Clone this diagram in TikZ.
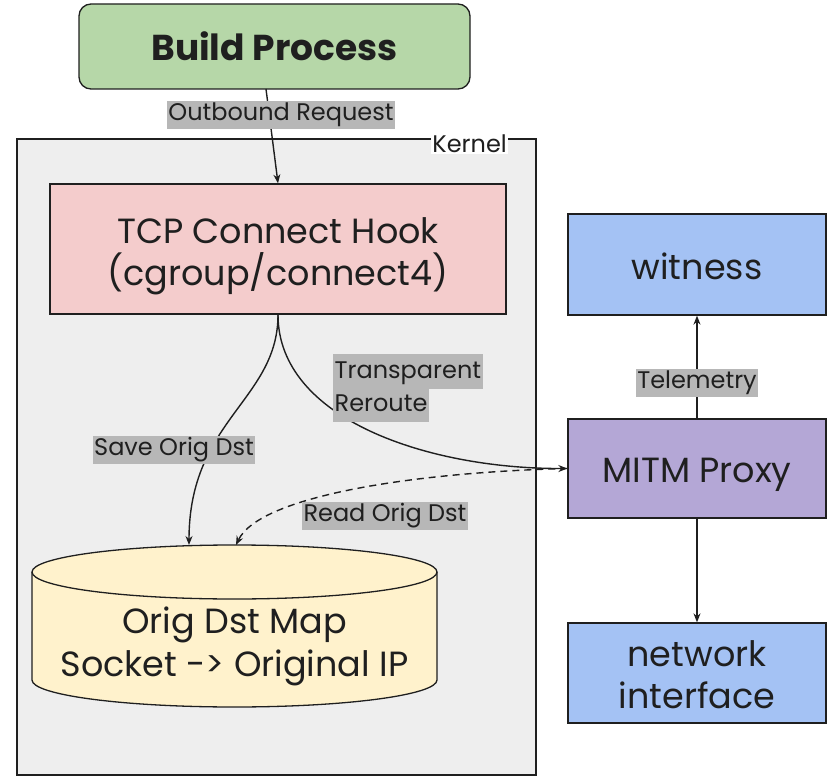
\documentclass[tikz,border=0pt]{standalone}
\usepackage{fontspec}
\setmainfont{Poppins}
\usetikzlibrary{arrows.meta}
\definecolor{txt}{HTML}{1F1F1F}
\definecolor{lblbg}{HTML}{B7B7B7}
\definecolor{buildfill}{HTML}{B6D7A8}
\definecolor{kernfill}{HTML}{EEEEEE}
\definecolor{tcpfill}{HTML}{F4CCCC}
\definecolor{bluefill}{HTML}{A4C2F4}
\definecolor{mitmfill}{HTML}{B4A7D6}
\definecolor{mapfill}{HTML}{FFF2CC}
\newcommand{\lblhl}[1]{{\setlength{\fboxsep}{1.5pt}\colorbox{lblbg}{\strut #1}}}
\tikzset{
  box/.style={draw=txt, line width=1.3pt, inner sep=0pt},
  boxtext/.style={text=txt, align=center, inner sep=0pt,
    font=\fontsize{35}{42}\selectfont},
  lbl/.style={fill=lblbg, text=txt, inner xsep=1.5pt, inner ysep=2pt,
    font=\fontsize{24}{32}\selectfont},
  conn/.style={line width=1.4pt, draw=txt, -{Stealth[length=9pt,width=7pt]}}
}
\begin{document}
\begin{tikzpicture}[x=1pt,y=1pt]
\useasboundingbox (0,0) rectangle (831,-776);
% kernel
\node[box, fill=kernfill, minimum width=519pt, minimum height=636pt] (kernel) at (276.5,-457) {};
\node[fill=white, text=txt, inner sep=1pt, anchor=east, font=\fontsize{24}{28}\selectfont] (kernlbl) at (508,-144) {Kernel};
% build
\node[box, fill=buildfill, rounded corners=12pt, minimum width=391pt, minimum height=85pt] (build) at (274.5,-46.5) {};
\node[boxtext, font=\fontsize{36}{42}\selectfont\bfseries] (buildt) at (build.center) {Build Process};
% tcp
\node[box, fill=tcpfill, minimum width=456pt, minimum height=130pt] (tcp) at (278,-249) {};
\node[boxtext] (tcpt) at ([yshift=-7pt]tcp.center) {TCP Connect Hook\\(cgroup/connect4)};
% right column
\node[box, fill=bluefill, minimum width=258pt, minimum height=101pt] (witness) at (697,-264.5) {};
\node[boxtext] (witnesst) at ([yshift=-2pt]witness.center) {witness};
\node[box, fill=mitmfill, minimum width=258pt, minimum height=99pt] (mitm) at (697,-468.5) {};
\node[boxtext] (mitmt) at ([yshift=-6pt]mitm.center) {MITM Proxy};
\node[box, fill=bluefill, minimum width=258pt, minimum height=100pt] (net) at (697,-673) {};
\node[boxtext] (nett) at ([yshift=-1.5pt]net.center) {network\\interface};
% cylinder
\filldraw[draw=txt, line width=1.3pt, fill=mapfill] (32,-572) -- (32,-680)
  arc[start angle=180, end angle=360, x radius=202.5pt, y radius=27pt] -- (437,-572)
  arc[start angle=0, end angle=180, x radius=202.5pt, y radius=27pt] -- cycle;
\draw[txt, line width=1.3pt] (32,-572) arc[start angle=180, end angle=360, x radius=202.5pt, y radius=27pt];
\node[boxtext, font=\fontsize{35}{43}\selectfont] (map) at (234.5,-646) {Orig Dst Map\\Socket -> Original IP};
\coordinate (mapsave) at (189,-545);
\coordinate (mapread) at (236,-545);
\coordinate (buildout) at (266,-89);
% connectors
\draw[conn] (buildout) -- (tcp.north);
\node[lbl] (outlbl) at (281,-115) {Outbound Request};
\draw[conn] (tcp.south) .. controls (278,-400) and (189,-420) .. (mapsave);
\node[lbl] (savelbl) at (174,-450) {Save Orig Dst};
\draw[conn] (tcp.south) .. controls (278,-420) and (430,-469) .. (mitm.west);
\node[text=txt, anchor=north west, align=left, inner sep=0pt, font=\fontsize{24}{32}\selectfont] (rerlbl) at (333,-354) {\lblhl{Transparent}\\[-3pt]\lblhl{Reroute}};
\draw[conn, dashed, dash pattern=on 7pt off 5pt] (mitm.west) .. controls (420,-472) and (260,-495) .. (mapread);
\node[lbl] (readlbl) at (385,-516) {Read Orig Dst};
\draw[conn] (mitm.north) -- (witness.south);
\node[lbl] (telelbl) at (697,-383) {Telemetry};
\draw[conn] (mitm.south) -- (net.north);
\end{tikzpicture}
\end{document}
